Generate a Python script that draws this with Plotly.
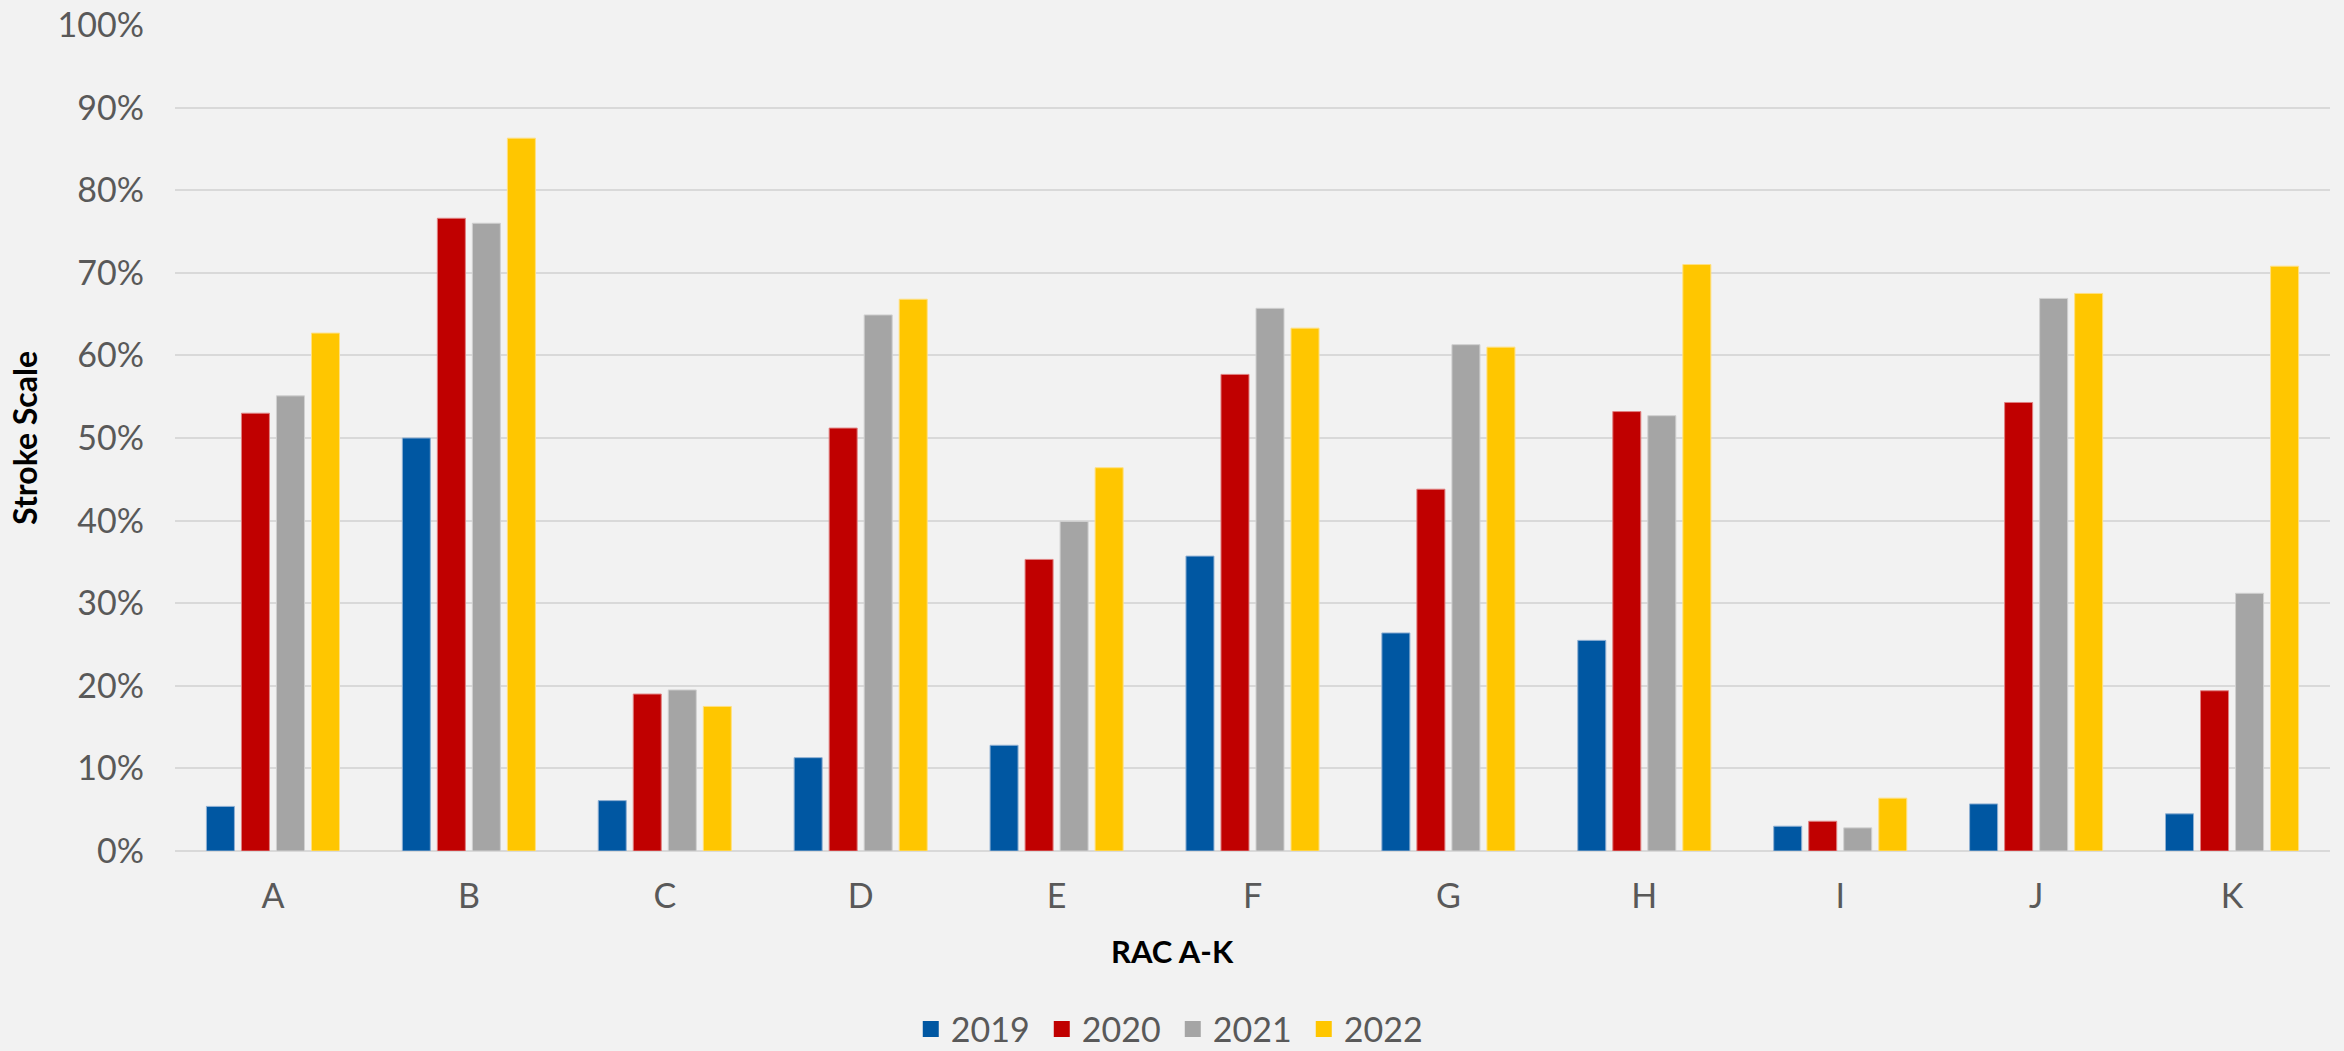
import plotly.graph_objects as go

categories = ["A", "B", "C", "D", "E", "F", "G", "H", "I", "J", "K"]
years = ["2019", "2020", "2021", "2022"]
v2019 = [0.054, 0.500, 0.061, 0.113, 0.128, 0.357, 0.264, 0.255, 0.030, 0.057, 0.045]
v2020 = [0.530, 0.766, 0.190, 0.512, 0.353, 0.577, 0.438, 0.532, 0.036, 0.543, 0.194]
v2021 = [0.551, 0.760, 0.195, 0.649, 0.399, 0.657, 0.613, 0.527, 0.028, 0.669, 0.312]
v2022 = [0.627, 0.863, 0.175, 0.668, 0.464, 0.633, 0.610, 0.710, 0.064, 0.675, 0.708]
colors = ["#0057A2", "#C00000", "#A5A5A5", "#FFC600"]
edge = ["#8FB0D3", "#E08080", "#D0D0D0", "#FFE080"]

series = [v2019, v2020, v2021, v2022]

fig = go.Figure()
for name, vals, c, e in zip(years, series, colors, edge):
    fig.add_trace(go.Bar(
        x=categories, y=vals, name=name, legendgroup=name, showlegend=False,
        marker=dict(color=c, line=dict(color=e, width=1)),
    ))
# legend entries with larger square swatches
for name, c in zip(years, colors):
    fig.add_trace(go.Scatter(
        x=[None], y=[None], name=name, legendgroup=name, mode="markers",
        marker=dict(symbol="square", size=20, color=c),
    ))

FONT = "Lato"
fig.update_layout(
    width=2344, height=1051,
    paper_bgcolor="#F2F2F2", plot_bgcolor="#F2F2F2",
    margin=dict(l=175, r=14, t=25, b=200, autoexpand=False),
    barmode="group", bargap=0.285, bargroupgap=0.2,
    font=dict(family=FONT, color="#595959", size=34),
    legend=dict(orientation="h", x=0.463, xanchor="center", y=-0.216, yanchor="middle",
                font=dict(size=34, color="#595959"), itemwidth=30, traceorder="normal",
                tracegroupgap=0, entrywidth=86, entrywidthmode="pixels"),
    showlegend=True,
    annotations=[dict(
        text="<b>RAC A-K</b>", xref="paper", yref="paper", x=0.463, y=-0.121,
        xanchor="center", yanchor="middle", showarrow=False,
        font=dict(family=FONT, size=31, color="#000000"),
    )],
)
fig.update_xaxes(
    showgrid=False, ticks="", ticklabelstandoff=22, automargin=False,
    tickfont=dict(size=34, color="#595959"),
    showline=False,
)
fig.update_yaxes(
    range=[0, 1], dtick=0.1, tickformat=".0%", automargin=False,
    showgrid=True, gridcolor="#D9D9D9", gridwidth=1.5,
    zeroline=True, zerolinecolor="#D9D9D9", zerolinewidth=1.5,
    ticks="", ticklabelstandoff=30,
    tickfont=dict(size=34, color="#595959"),
    title=dict(text="<b>Stroke Scale</b>", font=dict(size=32, color="#000000"), standoff=10),
    showline=False,
)

fig.write_html("out.html", config={"displayModeBar": False},
               post_script="document.body.style.margin='0';document.body.style.background='#F2F2F2';")
